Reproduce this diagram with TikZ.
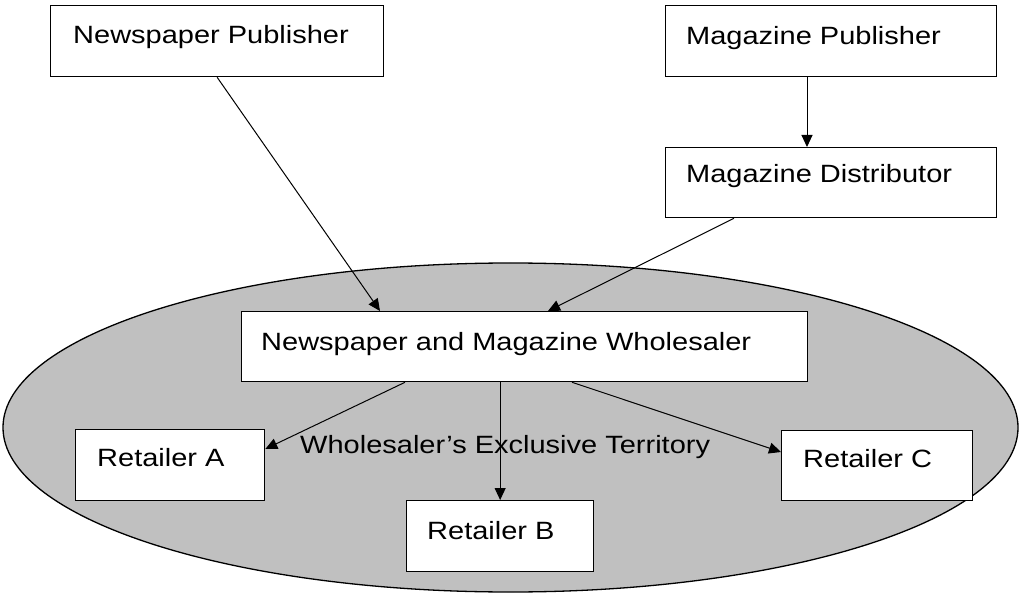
\documentclass[tikz,border=0pt]{standalone}
\usepackage{fontspec}
\setmainfont{Liberation Sans}[FakeStretch=1.16]
\usetikzlibrary{calc,arrows.meta}
\definecolor{terrgray}{RGB}{192,192,192}
\begin{document}
\begin{tikzpicture}[x=1pt,y=-1pt,
  box/.style={draw=black, line width=1.3pt, fill=white, rectangle, inner sep=0pt, anchor=north west},
  lbl/.style={anchor=base west, inner sep=0pt, font=\fontsize{25}{30}\selectfont, text=black},
  conn/.style={line width=1pt, -{Triangle[length=12pt,width=11pt]}},
]
\useasboundingbox (0,0) rectangle (1019,593);
\fill[white] (0,0) rectangle (1019,593);
% territory
\draw[line width=1.3pt, fill=terrgray] (510.5,427.5) ellipse [x radius=507.5, y radius=164.5];
% boxes
\node[box, minimum width=333pt, minimum height=71pt] (np) at (50,5) {};
\node[box, minimum width=331pt, minimum height=71pt] (mp) at (665,5) {};
\node[box, minimum width=331pt, minimum height=70pt] (md) at (665,147) {};
\node[box, minimum width=566pt, minimum height=70pt] (wh) at (241,311) {};
\node[box, minimum width=189pt, minimum height=71pt] (ra) at (75,429) {};
\node[box, minimum width=187pt, minimum height=71pt] (rb) at (406,500) {};
\node[box, minimum width=191pt, minimum height=70pt] (rc) at (781,430) {};
% labels
\node[lbl] (npt) at ($(np.north west)+(23,39)$) {Newspaper Publisher};
\node[lbl] (mpt) at ($(mp.north west)+(21,40)$) {Magazine Publisher};
\node[lbl] (mdt) at ($(md.north west)+(21,36)$) {Magazine Distributor};
\node[lbl] (wht) at ($(wh.north west)+(20,39)$) {Newspaper and Magazine Wholesaler};
\node[lbl] (rat) at ($(ra.north west)+(22,37)$) {Retailer A};
\node[lbl] (rbt) at ($(rb.north west)+(21,39)$) {Retailer B};
\node[lbl] (rct) at ($(rc.north west)+(22,37)$) {Retailer C};
\node[lbl] (terrt) at (300,453) {Wholesaler’s Exclusive Territory};
% connectors
\draw[conn] (np.south) -- ($(wh.north west)+(139,0)$);
\draw[conn] ($(mp.south west)+(142,0)$) -- ($(md.north west)+(142,0)$);
\draw[conn] ($(md.south west)+(69,0)$) -- ($(wh.north west)+(307,0)$);
\draw[conn] ($(wh.south west)+(164,0)$) -- ($(ra.north east)+(0,20)$);
\draw[conn] (rb.north |- wh.south) -- (rb.north);
\draw[conn] ($(wh.south west)+(331,0)$) -- ($(rc.north west)+(0,22)$);
\end{tikzpicture}
\end{document}
